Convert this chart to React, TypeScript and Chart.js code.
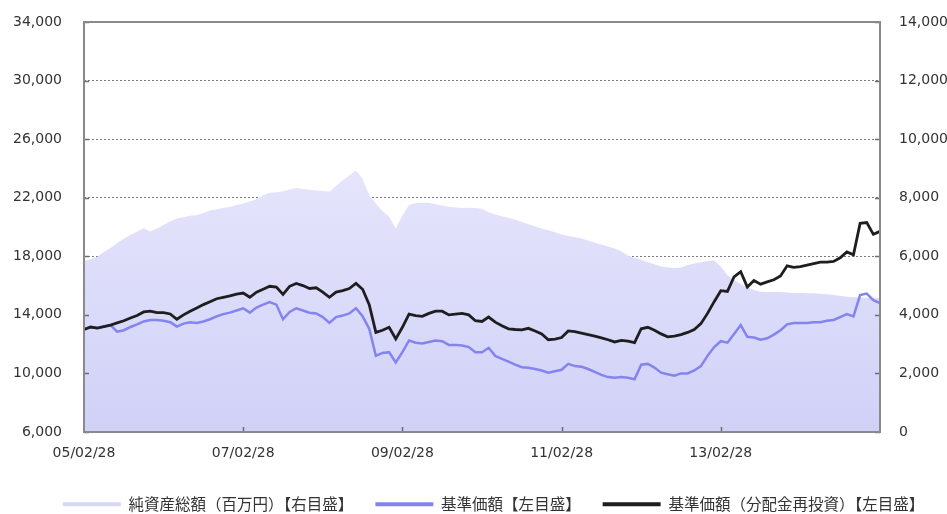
import React, { useEffect, useRef } from "react";
import { Chart, registerables } from "chart.js";

Chart.register(...registerables);

// Monthly observation points from 2005/02 to 2015/02
const startYear = 2005;
const startMonth = 2;
const monthCount = 121;
const categories: string[] = [];
for (let i = 0; i < monthCount; i++) {
  const total = startMonth - 1 + i;
  const y = startYear + Math.floor(total / 12);
  const m = (total % 12) + 1;
  categories.push(`${String(y % 100).padStart(2, "0")}/${String(m).padStart(2, "0")}/28`);
}

const xTickLabels = ["05/02/28", "07/02/28", "09/02/28", "11/02/28", "13/02/28"];

const seriesNames = [
  "純資産総額（百万円）【右目盛】",
  "基準価額【左目盛】",
  "基準価額（分配金再投資）【左目盛】",
];

// 純資産総額 (百万円), right axis
const netAssets: number[] = [
  5850, 5900, 5980, 6150, 6280, 6450, 6600, 6730, 6850, 6960, 6850, 6950,
  7070, 7200, 7290, 7330, 7380, 7410, 7480, 7560, 7610, 7650, 7680, 7750,
  7800, 7870, 7950, 8080, 8170, 8190, 8220, 8280, 8330, 8300, 8270, 8250,
  8230, 8200, 8400, 8600, 8770, 8930, 8650, 8080, 7800, 7550, 7350, 6950,
  7400, 7750, 7820, 7830, 7820, 7780, 7730, 7690, 7670, 7650, 7660, 7650,
  7620, 7500, 7430, 7370, 7310, 7250, 7170, 7090, 7020, 6950, 6890, 6820,
  6740, 6690, 6650, 6610, 6540, 6460, 6400, 6330, 6270, 6170, 6020, 5950,
  5880, 5800, 5730, 5650, 5620, 5600, 5620, 5700, 5750, 5800, 5840, 5860,
  5650, 5350, 5200, 5050, 4950, 4850, 4790, 4780, 4780, 4780, 4760, 4750,
  4750, 4740, 4740, 4720, 4700, 4680, 4650, 4620, 4600, 4590, 4580, 4580,
  4570,
];

// 基準価額, left axis
const nav: number[] = [
  13000, 13170, 13100, 13200, 13300, 12850, 12950, 13170, 13350, 13550, 13650, 13650,
  13600, 13500, 13200, 13400, 13500, 13450, 13550, 13700, 13900, 14050, 14150, 14300,
  14450, 14150, 14500, 14700, 14880, 14700, 13700, 14200, 14450, 14300, 14150, 14100,
  13850, 13450, 13850, 13950, 14100, 14450, 13900, 13050, 11200, 11400, 11450, 10750,
  11450, 12250, 12100, 12050, 12150, 12250, 12200, 11950, 11950, 11900, 11800, 11450,
  11450, 11750, 11200, 11000, 10800, 10600, 10420, 10380, 10300, 10200, 10050, 10150,
  10250, 10650, 10500, 10450, 10300, 10100, 9900, 9750, 9700, 9750, 9700, 9600,
  10600, 10650, 10400, 10050, 9950, 9850, 10000, 10000, 10200, 10500, 11200, 11800,
  12200, 12100, 12700, 13300, 12500, 12450, 12300, 12400, 12650, 12950, 13350, 13450,
  13450, 13450, 13500, 13500, 13600, 13650, 13850, 14050, 13900, 15350, 15450, 15000,
  14800,
];

// 基準価額（分配金再投資）, left axis
const navReinvested: number[] = [
  13000, 13170, 13100, 13200, 13300, 13450, 13600, 13790, 13950, 14200, 14250, 14150,
  14150, 14060, 13700, 14000, 14250, 14470, 14700, 14900, 15100, 15200, 15300, 15420,
  15490, 15200, 15550, 15750, 15950, 15900, 15400, 15950, 16150, 16000, 15800, 15850,
  15550, 15200, 15550, 15650, 15800, 16150, 15750, 14700, 12800, 12950, 13150, 12350,
  13150, 14050, 13950, 13900, 14100, 14250, 14250, 14000, 14050, 14100, 14000, 13600,
  13550, 13850, 13500, 13250, 13050, 13000, 12970, 13080, 12900, 12700, 12300, 12350,
  12450, 12900, 12850, 12750, 12650, 12550, 12430, 12300, 12150, 12250, 12200, 12100,
  13050, 13150, 12950, 12700, 12500, 12550, 12650, 12800, 13000, 13400, 14100, 14900,
  15650, 15600, 16600, 16950, 15900, 16350, 16100, 16250, 16400, 16650, 17350, 17250,
  17300, 17400, 17500, 17600, 17600, 17650, 17900, 18300, 18100, 20250, 20300, 19500,
  19700,
];

const leftAxis = { min: 6000, max: 34000, step: 4000 };
const rightAxis = { min: 0, max: 14000, step: 2000 };

const AREA_LEGEND = "#d6d6f7";
const NAV_COLOR = "#8484ee";
const REINV_COLOR = "#1e1e1e";
const FRAME = "#8a8a8a";
const TEXT = "#333333";
const CLEAR = "rgba(0,0,0,0)";

const fmt = (v: number) => v.toLocaleString("en-US");

const framePlugin = {
  id: "frameTicks",
  afterLayout(chart: any) {
    const lg = chart.legend;
    if (lg) {
      lg.top += 8;
      lg.bottom += 8;
      lg.left += 20;
      lg.right += 20;
    }
  },
  afterDatasetsDraw(chart: any) {
    const { ctx, chartArea } = chart;
    const { left, right, top, bottom } = chartArea;
    ctx.save();
    ctx.strokeStyle = "#6e6e6e";
    ctx.lineWidth = 1.5;
    const xs = chart.scales.x;
    ctx.beginPath();
    categories.forEach((c, i) => {
      if (xTickLabels.includes(c) && i > 0) {
        const px = Math.round(xs.getPixelForValue(i)) + 0.5;
        ctx.moveTo(px, bottom);
        ctx.lineTo(px, bottom - 5);
      }
    });
    const ys = chart.scales.y;
    ys.ticks.forEach((t: any) => {
      const py = Math.round(ys.getPixelForValue(t.value)) + 0.5;
      ctx.moveTo(left, py);
      ctx.lineTo(left + 5, py);
    });
    const y1 = chart.scales.y1;
    y1.ticks.forEach((t: any) => {
      const py = Math.round(y1.getPixelForValue(t.value)) + 0.5;
      ctx.moveTo(right, py);
      ctx.lineTo(right - 5, py);
    });
    ctx.stroke();
    ctx.strokeStyle = FRAME;
    ctx.lineWidth = 2;
    ctx.strokeRect(left, top, right - left, bottom - top);
    ctx.restore();
  },
};

export default function App() {
  const canvasRef = useRef<HTMLCanvasElement | null>(null);

  useEffect(() => {
    if (!canvasRef.current) return;
    const areaFill = (c: any) => {
      const chart = c.chart;
      const ca = chart.chartArea;
      if (!ca) return AREA_LEGEND;
      const g = chart.ctx.createLinearGradient(0, ca.top, 0, ca.bottom);
      g.addColorStop(0, "#f0f0fe");
      g.addColorStop(1, "#d1d1f8");
      return g;
    };

    const chart = new Chart(canvasRef.current, {
      type: "line",
      data: {
        labels: categories,
        datasets: [
          {
            label: seriesNames[0],
            data: netAssets,
            yAxisID: "y1",
            fill: "origin",
            backgroundColor: areaFill,
            borderColor: CLEAR,
            borderWidth: 0,
            pointRadius: 0,
            order: 2,
          },
          {
            label: seriesNames[1],
            data: nav,
            yAxisID: "y",
            borderColor: NAV_COLOR,
            backgroundColor: NAV_COLOR,
            borderWidth: 2.5,
            pointRadius: 0,
            fill: false,
            order: 1,
          },
          {
            label: seriesNames[2],
            data: navReinvested,
            yAxisID: "y",
            borderColor: REINV_COLOR,
            backgroundColor: REINV_COLOR,
            borderWidth: 2.8,
            pointRadius: 0,
            fill: false,
            order: 0,
          },
        ],
      },
      options: {
        animation: false,
        responsive: true,
        maintainAspectRatio: false,
        events: [],
        layout: { padding: { top: 22, left: 0, right: 0, bottom: 0 } },
        font: { family: "DejaVu Sans" },
        scales: {
          x: {
            type: "category",
            grid: { display: false, drawTicks: false },
            border: { display: false },
            ticks: {
              autoSkip: false,
              maxRotation: 0,
              minRotation: 0,
              padding: 13,
              color: TEXT,
              font: { family: "DejaVu Sans", size: 14 },
              callback: (_v: any, i: number) =>
                xTickLabels.includes(categories[i]) ? categories[i] : "",
            },
            afterFit: (s: any) => {
              s.height = 34.5;
            },
          },
          y: {
            position: "left",
            min: leftAxis.min,
            max: leftAxis.max,
            ticks: {
              stepSize: leftAxis.step,
              padding: 4,
              color: TEXT,
              font: { family: "DejaVu Sans", size: 14 },
              callback: (v: any) => fmt(Number(v)),
            },
            grid: {
              drawTicks: true,
              tickLength: 18,
              tickColor: CLEAR,
              color: (c: any) =>
                c.tick && (c.tick.value === leftAxis.min || c.tick.value === leftAxis.max)
                  ? CLEAR
                  : "#7a7a7a",
              lineWidth: 1,
            },
            border: { display: false, dash: [2, 2] },
            afterFit: (s: any) => {
              s.width = 84;
            },
          },
          y1: {
            position: "right",
            min: rightAxis.min,
            max: rightAxis.max,
            ticks: {
              stepSize: rightAxis.step,
              padding: 4,
              color: TEXT,
              font: { family: "DejaVu Sans", size: 14 },
              callback: (v: any) => fmt(Number(v)),
            },
            grid: {
              display: true,
              drawOnChartArea: false,
              drawTicks: true,
              tickLength: 15,
              tickColor: CLEAR,
              color: CLEAR,
            },
            border: { display: false },
            afterFit: (s: any) => {
              s.width = 67;
            },
          },
        },
        plugins: {
          tooltip: { enabled: false },
          legend: {
            display: true,
            position: "bottom",
            labels: {
              boxWidth: 58,
              boxHeight: 4,
              padding: 22,
              color: TEXT,
              font: { family: "'Noto Sans CJK JP'", size: 15.5 },
              sort: (a: any, b: any) => a.datasetIndex - b.datasetIndex,
              generateLabels: (ch: any) => {
                const items = (Chart as any).defaults.plugins.legend.labels.generateLabels(ch);
                const colors = [AREA_LEGEND, NAV_COLOR, REINV_COLOR];
                return items.map((it: any) => ({
                  ...it,
                  fillStyle: colors[it.datasetIndex],
                  strokeStyle: colors[it.datasetIndex],
                  lineWidth: 0,
                }));
              },
            },
          },
        },
      },
      plugins: [framePlugin],
    } as any);

    return () => {
      chart.destroy();
    };
  }, []);

  return (
    <div style={{ position: "fixed", left: 0, top: 0, width: 947, height: 514, background: "#fff" }}>
      <canvas ref={canvasRef} />
    </div>
  );
}
